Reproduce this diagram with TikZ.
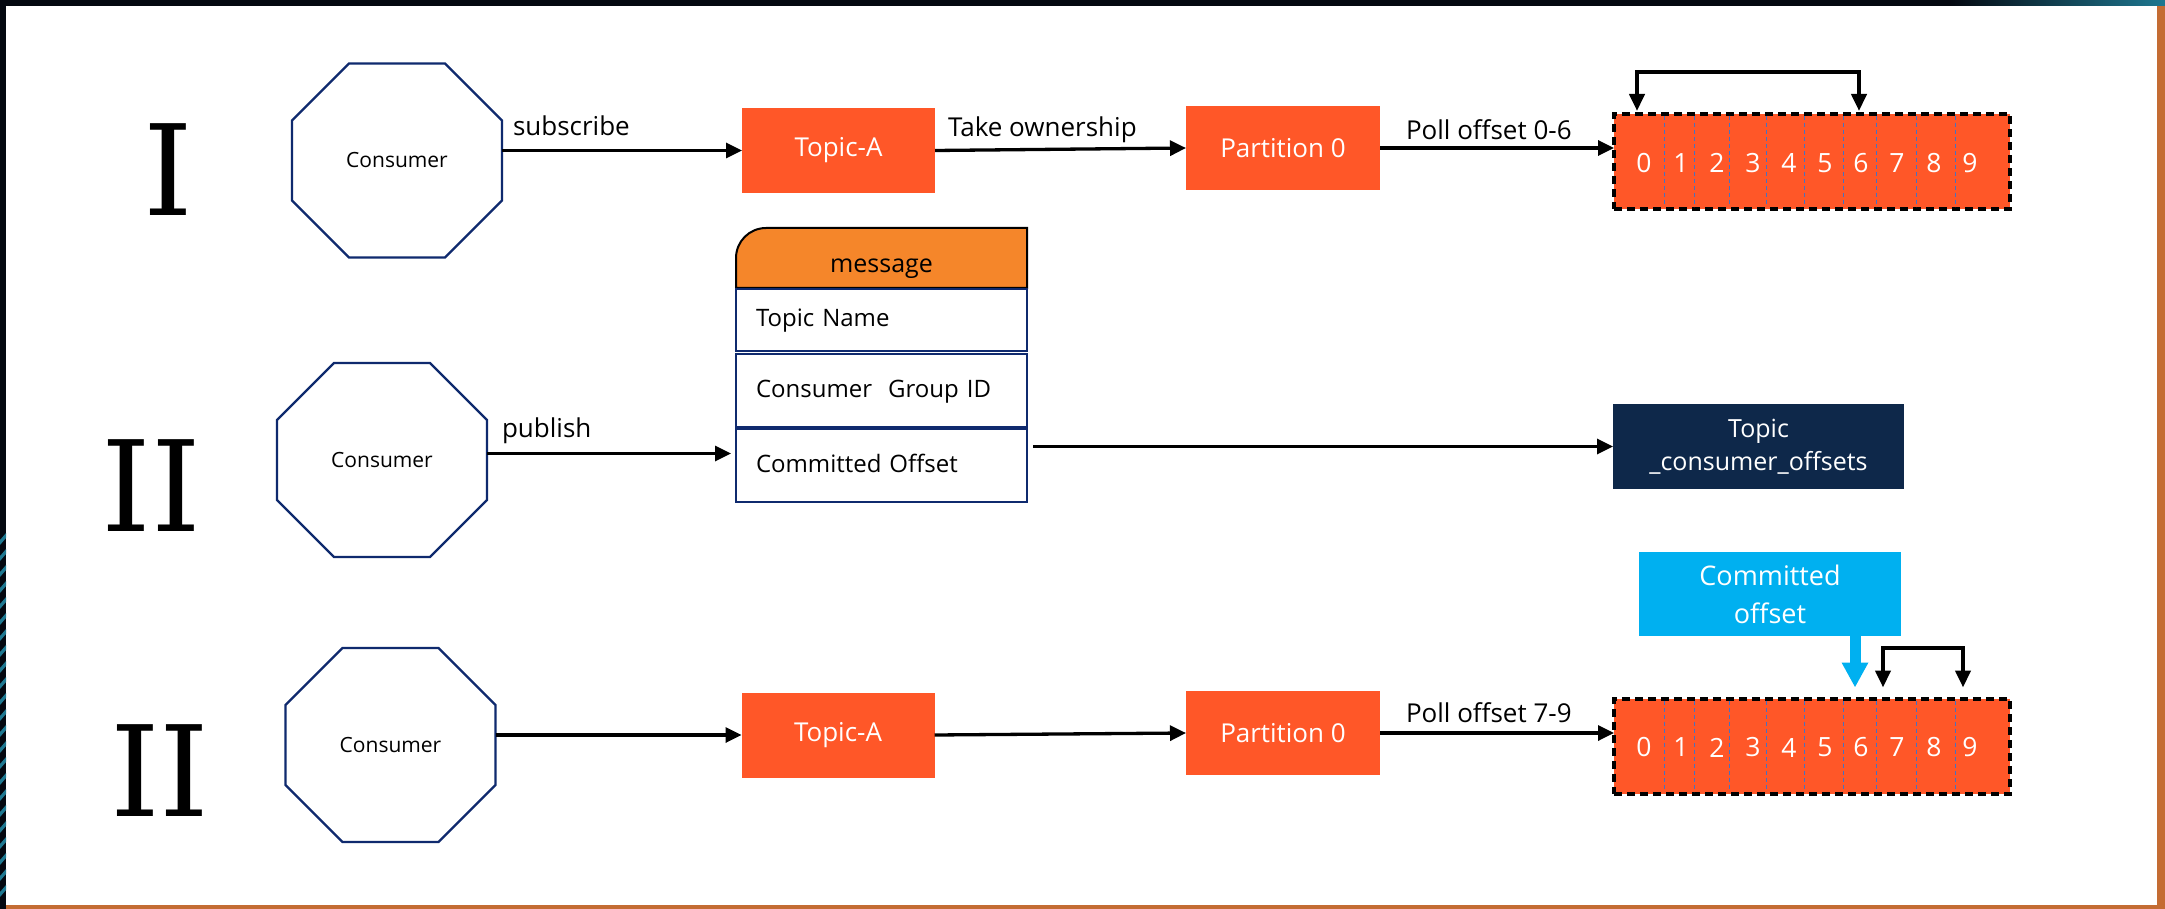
\documentclass[tikz,border=0pt]{standalone}
\usepackage{fontspec}
\setmainfont{Open Sans}
\newfontfamily\numfont{DejaVu Serif}
\usetikzlibrary{arrows.meta,calc,backgrounds}

\definecolor{kafka}{RGB}{255,87,40}
\definecolor{msgorange}{RGB}{245,134,42}
\definecolor{navyline}{RGB}{15,42,110}
\definecolor{navyfill}{RGB}{14,40,74}
\definecolor{cyanfill}{RGB}{0,176,240}
\definecolor{cellline}{RGB}{68,114,196}
\definecolor{framedark}{RGB}{4,8,16}
\definecolor{frameteal}{RGB}{30,120,145}
\definecolor{framecopper}{RGB}{196,108,51}

% stretched octagon drawn around a consumer node
\newcommand\octagonpath[1]{%
  \draw[octline] ($(#1.north west)+(57,0)$) -- ($(#1.north east)+(-57,0)$)
    -- ($(#1.north east)+(0,57)$) -- ($(#1.south east)+(0,-57)$)
    -- ($(#1.south east)+(-57,0)$) -- ($(#1.south west)+(57,0)$)
    -- ($(#1.south west)+(0,-57)$) -- ($(#1.north west)+(0,57)$) -- cycle;}

\begin{document}
\begin{tikzpicture}[x=1pt,y=-1pt,
  every node/.style={inner sep=0pt, outer sep=0pt},
  consumer/.style={minimum width=210pt, minimum height=194pt,
    font=\fontsize{21}{25}\selectfont},
  octline/.style={draw=navyline, line width=2.2pt, line join=miter},
  numeral/.style={font=\numfont\fontsize{126}{130}\selectfont},
  topicbox/.style={fill=kafka, text=white, minimum width=193pt,
    minimum height=85pt, font=\fontsize{26}{31}\selectfont},
  lbl/.style={font=\fontsize{26}{31}\selectfont, anchor=base west},
  arr/.style={line width=3.3pt, -{Triangle[length=16pt,width=15pt]}},
  looparr/.style={line width=4pt, {Triangle[length=17pt,width=15pt]}-{Triangle[length=17pt,width=15pt]}},
  barbox/.style={fill=kafka, draw=black, line width=4pt,
    dash pattern=on 8pt off 5pt, minimum width=396pt, minimum height=95pt},
  cellsep/.style={draw=cellline, line width=1pt, dash pattern=on 4pt off 3pt},
  digit/.style={text=white, font=\fontsize{26.5}{30}\selectfont},
  msghead/.style={minimum width=291pt, minimum height=60pt,
    font=\fontsize{25}{30}\selectfont},
  field/.style={draw=navyline, line width=2pt, minimum width=291pt,
    inner xsep=20pt, text width=251pt, align=left,
    text height=18pt, text depth=5pt,
    font=\fontsize{24}{29}\selectfont},
  navybox/.style={fill=navyfill, text=white, minimum width=291pt,
    minimum height=85pt, align=center, font=\fontsize{25}{33}\selectfont},
  cobox/.style={fill=cyanfill, text=white, minimum width=262pt,
    minimum height=84pt, align=center, font=\fontsize{27}{38}\selectfont},
  bluearr/.style={draw=cyanfill, line width=11pt,
    -{Triangle[length=25pt,width=25pt]}}
]
\useasboundingbox (0,0) rectangle (2165,909);

% page frame
\begin{scope}[on background layer]
  \fill[white] (0,0) rectangle (2165,909);
  \fill[framedark] (0,0) rectangle (2165,6);
  \shade[left color=framedark, right color=frameteal] (1950,0) rectangle (2165,6);
  \fill[framedark] (0,0) rectangle (6,909);
  \foreach \yy in {540,556,...,900}
    \fill[frameteal] (0,\yy) -- (6,\yy-7) -- (6,\yy-2) -- (0,\yy+5) -- cycle;
  \fill[framecopper] (2157,6) rectangle (2165,909);
  \fill[framecopper] (6,905) rectangle (2157,909);
\end{scope}

% step numerals
\node[numeral] (n1) at (168,170) {I};
\node[numeral] (n2) at (151.5,485.5) {II};
\node[numeral] (n3) at (160,771) {II};

% consumers
\node[consumer] (c1) at (397,160.5) {Consumer};
\node[consumer] (c2) at (382,460) {Consumer};
\node[consumer] (c3) at (390.5,745) {Consumer};
\octagonpath{c1}
\octagonpath{c2}
\octagonpath{c3}

% row I
\node[topicbox] (t1) at (838.5,150.5) {Topic-A};
\node[topicbox, minimum width=194pt, minimum height=84pt] (p1) at (1283,148) {Partition 0};
\node[barbox] (b1) at (1812,161.5) {};

% row II (second): message record
\node[msghead] (mh) at (881.5,269) {message};
\begin{scope}[on background layer]
  \draw[fill=msgorange, line width=2pt] ([yshift=11pt]mh.south west) [rounded corners=30pt]
    -- ([yshift=11pt]mh.north west) [sharp corners] -- ([yshift=11pt]mh.north east)
    -- ([yshift=11pt]mh.south east) -- cycle;
\end{scope}
\node[field, minimum height=62pt] (f1) at (881.5,320) {Topic Name};
\node[field, minimum height=73pt] (f2) at (881.5,390.5) {Consumer\ \ Group ID};
\node[field, minimum height=73pt] (f3) at (881.5,465.5) {Committed Offset};
\node[navybox] (off) at (1758.5,446.5) {Topic\\\_consumer\_offsets};

% row II (third)
\node[topicbox] (t3) at (838,735) {Topic-A};
\node[topicbox, minimum width=194pt, minimum height=84pt] (p3) at (1283,733) {Partition 0};
\node[barbox] (b3) at (1812,746) {};
\node[cobox] (co) at (1770,594) {Committed\\offset};

% offset cells
\foreach \bar in {b1,b3}{
  \foreach \dx in {50,80,115,152,190,229,262,302,341}
    \draw[cellsep] ([xshift=\dx pt, yshift=-2pt]\bar.north west)
      -- ([xshift=\dx pt, yshift=2pt]\bar.south west);
  \foreach \d [count=\i from 0] in {30,67,103,139,175,211,247,283,320,356}
    \node[digit] (\bar d\i) at ([xshift=\d pt, yshift=-1.5pt]\bar.west) {\i};
}

% connectors
\draw[arr] (t1.west -| c1.east) -- (t1.west);
\draw[arr] (t1.east) -- (p1.west);
\draw[arr] (p1.east) -- (p1.east -| b1.west);

\coordinate (pubtip) at ([xshift=-5pt, yshift=12pt]f3.west);
\draw[arr] (pubtip -| c2.east) -- (pubtip);
\draw[arr] ([xshift=6pt]off.west -| f3.east) -- (off.west);

\draw[arr] (t3.west -| c3.east) -- (t3.west);
\draw[arr] (t3.east) -- (p3.west);
\draw[arr] (p3.east) -- (p3.east -| b3.west);

% read ranges
\coordinate (l1a) at ([xshift=23pt, yshift=3pt]b1.north west);
\coordinate (l1b) at ([xshift=245pt, yshift=3pt]b1.north west);
\draw[looparr] (l1a) -- ++(0,-39) -| (l1b);
\coordinate (l3a) at ([xshift=269pt, yshift=11pt]b3.north west);
\coordinate (l3b) at ([xshift=349pt, yshift=11pt]b3.north west);
\draw[looparr] (l3a) -- ++(0,-40) -| (l3b);

\coordinate (cotip) at ([xshift=241pt, yshift=11pt]b3.north west);
\draw[bluearr] (co.south -| cotip) -- (cotip);

% connector labels
\node[lbl] (lsub) at (513,136) {subscribe};
\node[lbl] (lown) at (948,137) {Take ownership};
\node[lbl] (lpoll1) at (1406,140) {Poll offset 0-6};
\node[lbl] (lpub) at (502,437) {publish};
\node[lbl] (lpoll3) at (1406,722) {Poll offset 7-9};
\end{tikzpicture}
\end{document}
